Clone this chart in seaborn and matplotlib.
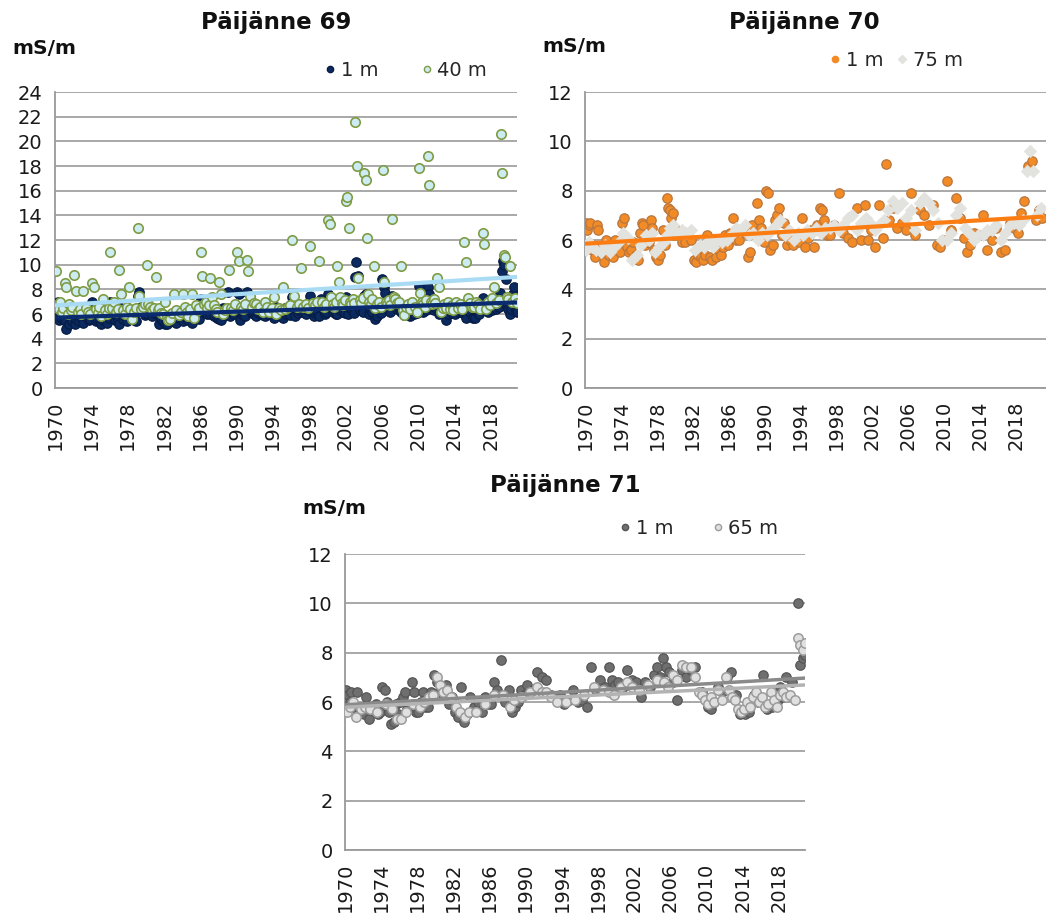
import matplotlib
matplotlib.use("Agg")
import matplotlib.pyplot as plt
from matplotlib.lines import Line2D
import numpy as np
import pandas as pd
import seaborn as sns

sns.set_theme(style="white")
plt.rcParams["font.family"] = ["DejaVu Sans"]

YEARS = list(range(1970, 2021))
XTICKS = list(range(1970, 2019, 4))

# Conductivity (mS/m), one list of samples per calendar year 1970-2020

# Päijänne 69
p69_1m = [
    [6.0, 6.8, 7.0, 5.5, 6.3, 5.7, 5.9, 5.5], [5.5, 4.8, 6.2, 5.2, 5.7, 5.4],
    [6.3, 5.2, 5.6, 5.8, 5.4, 5.9, 5.5], [5.3, 5.8, 6.2, 5.5, 5.6],
    [7.0, 6.2, 5.8, 5.4, 5.6, 6.0, 5.5], [5.2, 5.5, 6.0, 5.3, 5.7],
    [7.0, 6.2, 5.8, 5.5, 5.9, 5.4], [5.2, 6.5, 5.6, 5.8, 5.4],
    [6.0, 5.8, 6.2, 5.6, 5.5, 5.4], [7.5, 7.8, 6.6, 6.2, 5.9],
    [6.0, 6.4, 6.6, 5.8, 6.1], [6.3, 6.0, 5.2, 5.6, 5.4],
    [5.2, 5.2, 5.6, 5.4, 5.9], [5.5, 5.3, 6.0, 5.7, 5.8],
    [5.4, 6.2, 5.6, 5.5, 5.9], [5.3, 6.0, 6.4, 5.7, 5.6],
    [7.2, 6.4, 6.2, 6.5, 6.0, 6.3], [6.0, 6.6, 5.8, 6.2, 5.7],
    [5.6, 5.5, 6.5, 5.9, 6.1], [7.8, 5.8, 6.2, 6.0, 6.3],
    [7.8, 7.6, 5.5, 6.0, 6.2, 5.8], [7.8, 6.4, 6.6, 6.1, 6.0],
    [5.8, 6.2, 6.5, 6.0, 5.9], [5.8, 6.4, 6.0, 6.2, 5.9],
    [5.7, 6.6, 6.2, 6.0, 5.8], [5.7, 6.5, 6.0, 6.2, 5.9],
    [7.4, 7.5, 5.8, 6.5, 6.1, 6.3], [6.6, 6.2, 6.5, 6.0, 6.3],
    [7.5, 6.4, 5.8, 6.1, 6.2], [5.8, 7.2, 6.4, 6.0, 6.2],
    [7.6, 7.2, 6.6, 6.2, 6.4, 6.0], [6.0, 6.4, 6.9, 6.2, 6.1],
    [7.4, 6.0, 6.5, 6.3, 6.1], [9.0, 10.2, 9.1, 6.7, 6.3, 6.5, 6.2],
    [7.5, 7.6, 7.2, 6.0, 6.4, 6.2], [6.6, 5.6, 5.8, 6.3, 6.1],
    [8.8, 8.2, 7.7, 7.0, 6.5, 6.3, 6.2], [7.5, 6.8, 7.3, 6.4, 6.5],
    [6.2, 6.6, 5.9, 6.1, 6.3], [5.8, 6.2, 6.0, 6.3, 6.1],
    [8.3, 6.4, 6.2, 6.5, 6.3], [8.2, 7.6, 6.8, 6.4, 6.3, 6.6],
    [6.4, 6.0, 6.6, 6.2, 6.3], [5.5, 6.0, 6.3, 6.1, 6.4],
    [6.0, 6.6, 6.2, 6.3, 6.1], [6.8, 5.7, 6.4, 6.2, 6.5],
    [5.7, 5.7, 6.2, 6.0, 6.4], [7.3, 6.6, 6.4, 6.2, 6.5],
    [6.3, 7.2, 6.4, 6.6], [7.7, 9.5, 10.3, 10.0, 8.8, 6.6, 6.4],
    [6.0, 6.4, 7.6, 8.2, 6.3, 6.2],
]
p69_40m = [
    [9.5, 6.7, 6.4, 7.0, 6.2, 6.5], [8.5, 8.2, 6.0, 6.8, 6.3, 6.6],
    [9.2, 7.9, 6.2, 6.4, 6.0], [7.9, 6.5, 6.2, 6.0],
    [8.5, 8.2, 6.4, 6.1, 6.6], [5.8, 7.2, 6.3, 6.0, 6.5],
    [11.0, 6.5, 7.0, 6.2, 6.4], [9.6, 7.6, 6.3, 6.0, 6.6],
    [8.2, 6.4, 5.6, 6.2, 6.5], [13.0, 7.5, 6.4, 6.6, 6.8],
    [10.0, 6.8, 6.6, 6.3, 6.5], [9.0, 6.3, 6.5, 6.1, 6.0],
    [7.0, 5.8, 5.5, 5.6, 6.1], [7.6, 6.3, 5.9, 6.2],
    [7.6, 6.6, 6.2, 5.8, 6.4], [7.6, 5.7, 6.7, 6.3, 6.5],
    [11.0, 9.1, 6.8, 7.0, 6.5, 6.7], [8.9, 7.4, 6.7, 6.4, 6.2],
    [8.6, 7.6, 6.0, 6.3, 6.5], [9.6, 6.5, 6.3, 6.8],
    [11.0, 10.3, 6.6, 6.4, 6.8], [10.4, 9.5, 7.5, 6.6, 6.9],
    [6.8, 6.4, 6.6, 6.2], [7.0, 6.6, 6.2, 6.5],
    [7.4, 6.0, 6.5, 6.3], [8.2, 6.4, 6.6, 6.7],
    [12.0, 7.5, 6.6, 6.8], [9.7, 6.6, 6.8, 6.5],
    [11.5, 6.9, 6.7, 7.0], [10.3, 7.0, 6.6, 6.8],
    [13.6, 13.3, 7.4, 6.8, 6.6, 7.0], [9.9, 8.6, 7.4, 6.9, 6.7, 7.1],
    [15.2, 15.5, 13.0, 7.0, 6.8, 7.2, 6.9], [21.6, 18.0, 8.9, 7.1, 6.9, 7.3],
    [17.4, 16.9, 12.2, 7.6, 7.0, 6.8, 7.2], [9.9, 6.5, 6.8, 7.0, 6.6],
    [17.7, 8.6, 7.0, 6.8, 7.1, 6.7], [13.7, 7.4, 7.2, 6.9, 7.0],
    [9.9, 6.3, 5.9, 6.6, 6.8], [6.4, 7.0, 6.6, 6.2],
    [17.8, 7.7, 7.0, 6.8, 6.6, 7.1], [18.8, 16.5, 7.0, 6.8, 7.2, 6.9],
    [8.9, 8.2, 6.2, 6.5, 6.8], [6.5, 7.0, 6.4, 6.7, 6.3],
    [7.0, 6.5, 6.8, 6.4], [11.8, 10.2, 7.3, 6.9, 6.6],
    [6.6, 7.0, 6.8, 6.4], [12.6, 11.7, 6.4, 7.0, 6.7],
    [7.3, 8.2, 6.9, 7.1], [20.6, 17.4, 10.8, 10.6, 7.4, 7.2],
    [9.9, 7.0, 7.3, 6.9],
]

# Päijänne 70
p70_1m = [
    [6.7, 6.4, 6.6, 6.7, 5.6, 5.8], [5.3, 6.6, 6.4, 5.5, 5.7], [5.1, 6.0, 5.5, 5.4, 5.8],
    [5.3, 6.0, 5.6, 5.5], [6.7, 6.9, 5.9, 5.7, 5.5], [5.6, 5.9, 5.4, 5.2],
    [6.3, 6.7, 6.6, 5.8, 5.9], [5.9, 6.8, 6.5, 5.6, 5.3], [5.2, 5.4, 6.4, 5.8],
    [7.7, 7.3, 7.2, 6.9, 7.1, 6.2], [6.4, 6.2, 5.9], [5.9, 6.3, 6.0],
    [5.2, 5.1, 5.4, 5.3], [5.2, 5.4, 6.2, 5.3], [5.2, 5.9, 5.3, 5.6],
    [5.4, 5.7, 6.2, 5.8], [6.3, 6.9, 6.0], [6.0, 6.4, 6.3],
    [5.3, 5.5, 6.6, 6.2], [7.5, 6.8, 6.5, 5.9], [8.0, 7.9, 5.6, 5.8],
    [6.8, 7.0, 7.3, 6.2], [6.7, 5.8, 6.0], [5.8, 6.0, 5.9],
    [6.9, 5.7, 6.1], [6.4, 5.7, 6.6], [7.3, 7.2, 6.8, 6.2],
    [6.2, 6.6], [7.9, 6.3], [6.1, 5.9],
    [7.3, 6.0], [7.4, 6.0, 6.4], [5.7, 7.4],
    [6.1, 9.1, 6.8], [7.3, 6.5], [6.7, 6.4],
    [7.9, 6.2], [7.2, 7.0], [6.6, 7.4],
    [5.8, 5.7, 6.0], [8.4, 6.4], [7.7, 6.9],
    [6.1, 5.5, 5.8], [6.3, 6.2], [7.0, 5.6],
    [6.0, 6.5], [5.5, 5.6], [6.7, 6.5],
    [6.3, 7.1, 7.6], [9.0, 9.2], [6.8, 7.2, 6.9],
]
p70_75m = [
    [5.6, 5.9, 5.7], [5.6, 5.5], [5.8, 5.5], [5.7, 5.9],
    [6.3, 6.1], [5.2, 5.4], [5.8, 6.2], [6.0, 6.3, 5.5],
    [5.7, 5.9], [6.2, 6.5, 6.6], [6.3, 6.4], [6.3, 6.4],
    [5.6, 5.8], [5.7, 6.0], [5.7, 6.0], [5.9, 6.0],
    [6.2, 6.5], [6.4, 6.6], [6.2, 6.3], [6.0, 6.3],
    [6.2, 6.4], [6.6, 6.8], [6.2, 6.4], [6.0, 6.3],
    [6.2, 6.4], [6.3, 6.5], [6.3, 6.5], [6.5, 6.6],
    [6.4, 6.6], [6.9, 7.0], [6.4, 6.7], [6.9, 6.7],
    [6.4, 6.6], [6.8, 7.2], [7.6, 7.3], [7.5, 6.9],
    [7.2, 6.4], [7.5, 7.7], [7.5, 7.2], [6.7, 6.0],
    [6.0, 6.3], [7.0, 7.3], [6.5, 6.3], [6.0, 6.2],
    [6.2, 6.4], [6.4, 6.6], [6.0, 6.3], [6.6, 6.7],
    [6.6, 6.8], [8.8, 9.6, 8.8], [7.0, 7.3],
]

# Päijänne 71
p71_1m = [
    [6.5, 6.3, 6.0, 6.4, 5.8], [5.8, 6.4, 5.6, 5.6], [5.5, 6.2, 5.3, 5.7], [5.8, 5.9, 5.5, 5.6],
    [6.6, 6.5, 6.0, 5.6], [5.1, 5.2, 5.9, 5.5], [6.0, 6.2, 6.4, 5.7], [5.7, 6.8, 6.4, 5.6],
    [5.6, 6.0, 6.4, 5.8], [5.8, 6.4, 7.1], [6.8, 6.5, 6.3], [6.7, 5.9, 6.2],
    [5.6, 5.4, 6.6], [5.2, 5.5, 6.2], [5.8, 6.0], [5.6, 6.2, 5.9],
    [5.9, 6.8, 6.5], [7.7, 6.0], [6.5, 5.6, 5.8], [6.0, 6.5, 6.3],
    [6.7, 6.4, 6.5], [7.2, 7.0], [6.9, 6.3], [6.2, 6.3],
    [5.9, 6.1], [6.5, 6.0], [6.1, 5.8], [7.4, 6.5],
    [6.9, 6.6], [7.4, 6.9, 6.7], [6.8, 6.6], [7.3, 6.9],
    [6.8, 6.2], [6.8, 6.6], [7.1, 7.4, 7.0], [7.8, 7.4, 7.2],
    [6.8, 6.1], [7.3, 7.0], [7.3, 7.4], [6.4],
    [5.8, 5.7, 6.0], [6.6, 6.4], [7.0, 7.2], [6.3, 5.5],
    [5.5, 5.6], [6.3, 6.0], [7.1, 5.7], [5.8, 6.0],
    [6.6, 6.2, 7.0], [6.8], [10.0, 7.5, 7.8, 7.9],
]
p71_65m = [
    [5.6, 5.8, 6.0], [5.4, 5.7], [5.8, 5.7], [5.6],
    [5.9], [5.7, 5.3], [5.3, 5.6], [5.9],
    [5.8, 6.0], [6.2, 6.3], [7.0, 6.7, 6.4], [6.5, 6.2],
    [5.8, 5.6], [5.4, 5.6], [5.6], [5.9],
    [6.3], [6.3], [5.8, 6.1], [6.2],
    [6.4], [6.6, 6.4], [6.4, 6.2], [6.0],
    [6.0], [6.1], [6.3], [6.6],
    [6.5], [6.4, 6.3], [6.6], [6.8, 6.6],
    [6.5], [6.7], [6.9], [6.8, 6.6],
    [7.1, 6.9], [7.5, 7.4], [7.4, 7.0], [6.4, 6.3, 6.1],
    [5.9, 6.2, 6.0], [6.5, 6.1], [7.0, 6.5, 6.2], [6.1, 5.7, 5.6],
    [5.7, 6.0, 5.8], [6.2, 6.4, 6.0], [6.2, 5.8, 5.9], [6.4, 6.1, 5.8],
    [6.3, 6.4, 6.2], [6.3, 6.1], [8.6, 8.3, 8.1, 8.4],
]


def to_frame(per_year):
    """Spread each year's samples across that year on the time axis."""
    t, v = [], []
    for yr, vals in zip(YEARS, per_year):
        n = len(vals)
        for i, val in enumerate(vals):
            t.append(yr + (i + 0.5) / n)
            v.append(val)
    return pd.DataFrame({"year": t, "value": v})


def style_axes(ax, ymax, xmax):
    ax.set_xlim(1970, xmax)
    ax.set_ylim(0, ymax)
    ax.set_yticks(range(0, ymax + 1, 2))
    ax.set_xticks(XTICKS)
    ax.set_xticklabels([str(y) for y in XTICKS], rotation=90)
    ax.grid(axis="y", color="#a8a8a8", lw=1.4)
    ax.grid(axis="x", visible=False)
    ax.set_axisbelow(True)
    for side in ("top", "right"):
        ax.spines[side].set_visible(False)
    for side in ("left", "bottom"):
        ax.spines[side].set_color("#9a9a9a")
        ax.spines[side].set_linewidth(1.3)
    ax.tick_params(axis="both", colors="#9a9a9a", labelcolor="#1a1a1a",
                   labelsize=14, length=6, width=1.2, direction="out", pad=3)
    ax.set_xlabel("")
    ax.set_ylabel("")


def draw_series(ax, df, marker, fc, ec, size=46, lw=0.9, z=3):
    sns.scatterplot(data=df, x="year", y="value", ax=ax, marker=marker,
                    color=fc, edgecolor=ec, linewidth=lw, s=size,
                    legend=False, zorder=z)


def draw_trend(ax, df, color, lw=3.0):
    sns.regplot(data=df, x="year", y="value", ax=ax, scatter=False, ci=None,
                line_kws=dict(color=color, lw=lw, zorder=5))


def add_legend(ax, handles, labels, x, y, colspace):
    ax.legend(handles, labels, ncol=2, loc="center left",
              bbox_to_anchor=(x / 1046, 1 - y / 918),
              bbox_transform=fig.transFigure, frameon=False, fontsize=14,
              handlelength=0.6, handletextpad=0.25, columnspacing=colspace,
              borderpad=0, borderaxespad=0)


fig = plt.figure(figsize=(10.46, 9.18), dpi=100)
H = 296 / 918
ax1 = fig.add_axes([55 / 1046, 1 - 388 / 918, (517 - 55) / 1046, H])
ax2 = fig.add_axes([585 / 1046, 1 - 388 / 918, (1046 - 585) / 1046, H])
ax3 = fig.add_axes([345 / 1046, 1 - 850 / 918, (805 - 345) / 1046, H])

# Päijänne 69
c69_1, e69_1 = "#0b2a5f", "#061c45"
c69_40, e69_40 = "#cdebf3", "#7f9c45"
d69_1, d69_40 = to_frame(p69_1m), to_frame(p69_40m)
draw_series(ax1, d69_1, "o", c69_1, e69_1, z=3)
draw_series(ax1, d69_40, "o", c69_40, e69_40, lw=1.2, z=4)
draw_trend(ax1, d69_40, "#a9dcf4")
draw_trend(ax1, d69_1, "#0a2b70")
style_axes(ax1, 24, 2020.9)
add_legend(ax1,
           [Line2D([], [], ls="", marker="o", ms=4.5, mfc=c69_1, mec=e69_1),
            Line2D([], [], ls="", marker="o", ms=4.5, mfc=c69_40, mec=e69_40)],
           ["1 m", "40 m"], 324, 70, 2.2)

# Päijänne 70
c70_1, e70_1 = "#f28a26", "#b9773f"
c70_75 = "#e2e2de"
d70_1, d70_75 = to_frame(p70_1m), to_frame(p70_75m)
draw_series(ax2, d70_1, "o", c70_1, e70_1)
draw_series(ax2, d70_75, "D", c70_75, c70_75, size=40, lw=0.5)
draw_trend(ax2, d70_1, "#fb7d12")
style_axes(ax2, 12, 2021.3)
add_legend(ax2,
           [Line2D([], [], ls="", marker="o", ms=4.5, mfc=c70_1, mec=c70_1),
            Line2D([], [], ls="", marker="D", ms=4.0, mfc=c70_75, mec=c70_75)],
           ["1 m", "75 m"], 829, 60, 0.7)

# Päijänne 71
c71_1, e71_1 = "#6f6f6f", "#555555"
c71_65, e71_65 = "#e0e0e0", "#9c9c9c"
d71_1, d71_65 = to_frame(p71_1m), to_frame(p71_65m)
draw_series(ax3, d71_1, "o", c71_1, e71_1)
draw_series(ax3, d71_65, "o", c71_65, e71_65, lw=1.1)
draw_trend(ax3, d71_1, "#8a8a8a", lw=2.5)
draw_trend(ax3, d71_65, "#b3b3b3", lw=2.5)
style_axes(ax3, 12, 2020.9)
add_legend(ax3,
           [Line2D([], [], ls="", marker="o", ms=4.5, mfc=c71_1, mec=e71_1),
            Line2D([], [], ls="", marker="o", ms=4.5, mfc=c71_65, mec=e71_65)],
           ["1 m", "65 m"], 619, 528, 2.0)

# Titles and unit labels
for title, cx, cy in [("Päijänne 69", 276, 22), ("Päijänne 70", 804, 22),
                      ("Päijänne 71", 565, 485)]:
    fig.text(cx / 1046, 1 - cy / 918, title, ha="center", va="center",
             fontsize=16.5, fontweight="bold", color="#111111")
for ux, uy in [(12, 48), (542, 46), (302, 509)]:
    fig.text(ux / 1046, 1 - uy / 918, "mS/m", ha="left", va="center",
             fontsize=14.5, fontweight="bold", color="#111111")

fig.savefig("out.png", dpi=100, facecolor="white")
